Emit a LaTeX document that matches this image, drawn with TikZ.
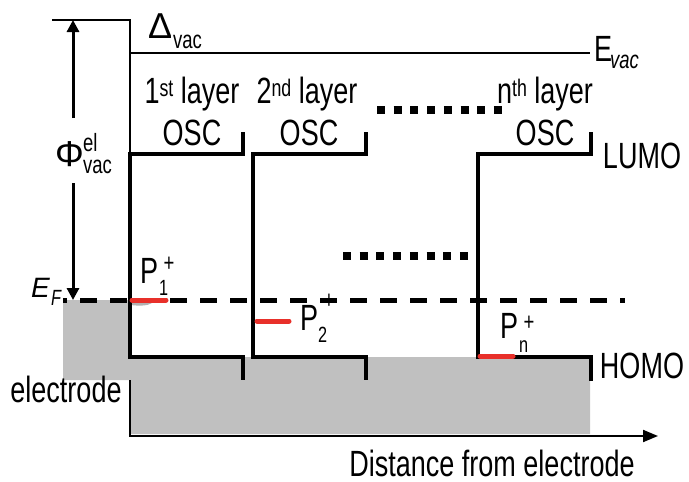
\documentclass[tikz,border=0pt]{standalone}
\usepackage{fontspec}
\setmainfont{Liberation Sans}[FakeStretch=0.74]
\newfontfamily\grk{Liberation Sans}
\usetikzlibrary{arrows.meta}
\definecolor{elgray}{HTML}{C0C0C0}
\definecolor{polred}{HTML}{E8302A}
\newcommand\upx[1]{\raisebox{7pt}{\fontsize{24}{24}\selectfont #1}}
\tikzset{
  big/.style={inner sep=0pt, font=\fontsize{36.5}{38}\selectfont},
  greek/.style={inner sep=0pt, font=\fontsize{36}{38}\selectfont\grk},
  small/.style={inner sep=0pt, font=\fontsize{25}{26}\selectfont},
  tiny/.style={inner sep=0pt, font=\fontsize{22}{23}\selectfont},
  level/.style={line width=4.2pt, line join=miter},
  thinline/.style={line width=1.8pt},
  fermi/.style={line width=5pt, dash pattern=on 17pt off 13pt, dash phase=-17pt},
  dotrow/.style={line width=8pt, dash pattern=on 8pt off 8.7pt},
  polaron/.style={line width=5pt, polred, line cap=round},
  bigtip/.style={-{Triangle[length=12pt,width=12pt]}},
}
\begin{document}
\begin{tikzpicture}[x=1pt,y=-1pt]
\useasboundingbox (0,0) rectangle (689,482);
% electrode
\fill[elgray] (63,300) -- (130,300) -- (130,357) -- (590,357) -- (590,434)
  -- (130,434) -- (130,380) -- (63,380) -- cycle;
\fill[gray!60] (131,300) .. controls (145,300) and (155,301) .. (152,303)
  .. controls (148,306) and (138,306) .. (131,305) -- cycle;
% Fermi level
\coordinate (efl) at (63,300);
\coordinate (efr) at (625,300);
\draw[fermi] (efl) -- (efr);
% thin lines
\coordinate (tl) at (52,20);
\coordinate (tc) at (130,20);
\coordinate (lumo1) at (130,154);
\coordinate (vacl) at (130,53);
\coordinate (vacr) at (590,53);
\coordinate (axtop) at (130,380);
\coordinate (origin) at (130,436);
\coordinate (axend) at (658,436);
\draw[thinline] (tl) -- (tc) -- (lumo1);
\draw[thinline] (vacl) -- (vacr);
\draw[line width=2pt, -{Triangle[length=15pt,width=12pt]}] (axtop) -- (origin) -- (axend);
% work function arrow
\coordinate (phitop) at (73,20);
\coordinate (phiga) at (73,118);
\coordinate (phigb) at (73,183);
\coordinate (phibot) at (73,300);
\draw[line width=3pt, bigtip] (phiga) -- (phitop);
\draw[line width=3pt, bigtip] (phigb) -- (phibot);
% layers
\draw[level] (243,132) -- (243,154) -- (130,154) -- (130,357) -- (243,357) -- (243,380);
\draw[level] (366,132) -- (366,154) -- (253,154) -- (253,357) -- (366,357) -- (366,380);
\draw[level] (591,132) -- (591,154) -- (478,154) -- (478,357) -- (591,357) -- (591,381);
% dots
\draw[dotrow] (377,110) -- (503,110);
\draw[dotrow] (343,256) -- (469,256);
% polarons
\draw[polaron] (132,300) -- (166,300);
\draw[polaron] (257,321) -- (289,321);
\draw[polaron] (480,356) -- (513,356);
% labels
\node[greek, anchor=base west] (delta) at (148,38) {Δ};
\node[small, anchor=base west] (deltasub) at (173,48) {vac};
\node[big, anchor=base west] (evac) at (594,61) {E};
\node[small, anchor=base west] (evacsub) at (610,68) {\itshape vac};
\node[greek, anchor=base west] (phi) at (55,166) {Φ};
\node[small, anchor=base west] (phisup) at (83,151) {el};
\node[small, anchor=base west] (phisub) at (83,173) {vac};
\node[inner sep=0pt, font=\fontsize{28}{30}\selectfont\grk\itshape, anchor=base west] (ef) at (31,297) {E};
\node[tiny, anchor=base west] (efsub) at (51,305) {\itshape F};
\node[big, anchor=base] (l1) at (192,103) {1\upx{st} layer};
\node[big, anchor=base] (l2) at (307,103) {2\upx{nd} layer};
\node[big, anchor=base] (ln) at (545,103) {n\upx{th} layer};
\node[big, anchor=base] (osc1) at (192,145) {OSC};
\node[big, anchor=base] (osc2) at (309,145) {OSC};
\node[big, anchor=base] (oscn) at (545,145) {OSC};
\node[big, anchor=base] (lumo) at (642,168) {LUMO};
\node[big, anchor=base] (homo) at (642,378) {HOMO};
\node[big, anchor=base] (elec) at (66,402) {electrode};
\node[big, anchor=base, text depth=0pt] (dist) at (492,476) {Distance from electrode};
% polaron labels
\node[big, anchor=base west] (p1) at (140,283) {P};
\node[small] (p1p) at (169,264) {+};
\node[tiny, anchor=base west] (p1s) at (159,295) {1};
\node[big, anchor=base west] (p2) at (300,330) {P};
\node[small] (p2p) at (329,301) {+};
\node[tiny, anchor=base west] (p2s) at (318,342) {2};
\node[big, anchor=base west] (pn) at (500,338) {P};
\node[small] (pnp) at (529,323) {+};
\node[tiny, anchor=base west] (pns) at (519,352) {n};
\end{tikzpicture}
\end{document}
